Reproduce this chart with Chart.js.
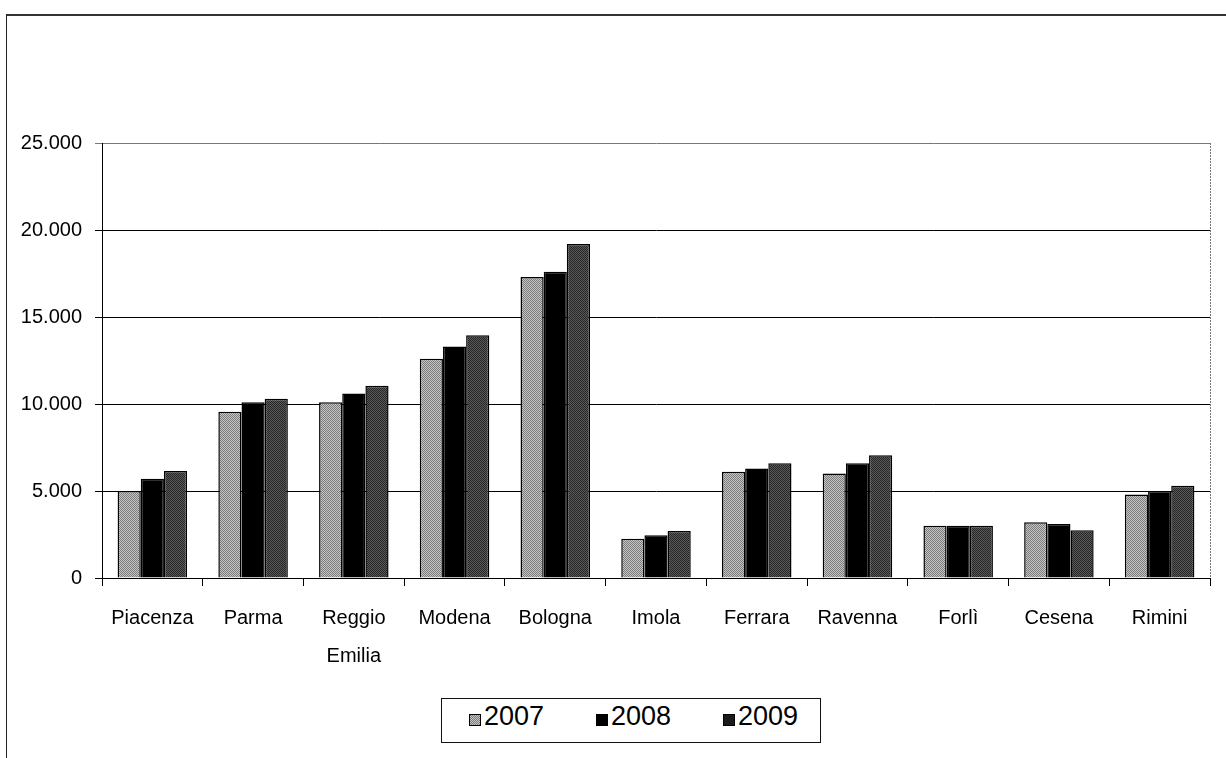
<!DOCTYPE html>
<html>
<head>
<meta charset="utf-8">
<script src="https://cdn.jsdelivr.net/npm/chart.js@4/dist/chart.umd.min.js"></script>
<style>
  body { margin: 0; background: #fff; }
  #wrap { position: relative; width: 1226px; height: 758px; overflow: hidden; }
  #frame { position: absolute; left: 6px; top: 14px; width: 1300px; height: 800px;
           border-left: 1px solid #222; border-top: 2px solid #333; }
  #chart-box { position: absolute; left: 0; top: 0; width: 1226px; height: 758px; }
  #legend { position: absolute; left: 441px; top: 698px; width: 378px; height: 43px;
            border: 1px solid #111; background: #fff; font-family: Arial, 'Liberation Sans', sans-serif; }
  .leg-item { position: absolute; top: 0; height: 43px; }
  .leg-box { position: absolute; top: 15px; width: 10px; height: 10px; border: 1px solid #000; }
  .leg-text { position: absolute; left: 15px; top: 2px; font-size: 27px; line-height: 30px; color: #000; }
</style>
</head>
<body>
<div id="wrap">
  <div id="frame"></div>
  <div id="chart-box"><canvas id="chart"></canvas></div>
  <div id="legend"></div>
</div>
<script>
// Data
const categories = ['Piacenza', 'Parma', ['Reggio', 'Emilia'], 'Modena', 'Bologna', 'Imola',
                    'Ferrara', 'Ravenna', 'Forlì', 'Cesena', 'Rimini'];
const seriesLabels = ['2007', '2008', '2009'];
const values2007 = [5000, 9550, 10100, 12600, 17300, 2250, 6100, 6000, 3000, 3200, 4800];
const values2008 = [5700, 10100, 10600, 13300, 17600, 2450, 6300, 6600, 3000, 3100, 5000];
const values2009 = [6150, 10300, 11050, 13950, 19200, 2700, 6600, 7050, 3000, 2750, 5300];
const yTicks = [0, 5000, 10000, 15000, 20000, 25000];

// Stippled fills like the scanned print
const makePattern = (light, dark) => {
    const c = document.createElement('canvas');
    c.width = 4; c.height = 4;
    const g = c.getContext('2d');
    g.fillStyle = light;
    g.fillRect(0, 0, 4, 4);
    g.fillStyle = dark;
    [[0, 0], [2, 0], [1, 1], [3, 1], [0, 2], [2, 2], [1, 3], [3, 3]].forEach(([x, y]) => g.fillRect(x, y, 1, 1));
    return c;
};
const pat2007 = makePattern('#c4c4c4', '#7c7c7c');
const pat2009 = makePattern('#5a5a5a', '#262626');
const ctx = document.getElementById('chart').getContext('2d');
const fills = [ctx.createPattern(pat2007, 'repeat'), '#000000', ctx.createPattern(pat2009, 'repeat')];
const legendFills = [`url(${pat2007.toDataURL()})`, '#000', '#1a1a1a'];

const formatIt = (v) => String(v).replace(/\B(?=(\d{3})+(?!\d))/g, '.');

// plot frame on the right side
const plotBorder = {
    id: 'plotBorder',
    afterDraw(chart) {
        const a = chart.chartArea;
        const g = chart.ctx;
        g.save();
        g.strokeStyle = '#777';
        g.lineWidth = 1;
        g.setLineDash([2, 1]);
        g.beginPath();
        g.moveTo(a.right + 0.5, a.top);
        g.lineTo(a.right + 0.5, a.bottom);
        g.stroke();
        g.restore();
    }
};

const allValues = [values2007, values2008, values2009];

new Chart(ctx, {
    type: 'bar',
    data: {
        labels: categories,
        datasets: seriesLabels.map((lab, i) => ({
            label: lab,
            data: allValues[i],
            backgroundColor: fills[i],
            borderColor: '#000',
            borderWidth: 1.5,
            borderSkipped: 'bottom'
        }))
    },
    options: {
        responsive: true,
        maintainAspectRatio: false,
        animation: false,
        layout: { padding: { top: 143, right: 16, left: 0, bottom: 0 } },
        plugins: {
            legend: { display: false },
            tooltip: { enabled: false }
        },
        datasets: { bar: { categoryPercentage: 0.69, barPercentage: 1.0 } },
        scales: {
            x: {
                grid: { offset: true, drawOnChartArea: false, color: '#000', tickLength: 8, lineWidth: 1 },
                border: { color: '#000', width: 1 },
                ticks: {
                    color: '#000',
                    padding: 13,
                    maxRotation: 0,
                    autoSkip: false,
                    font: { family: "Arial, 'Liberation Sans', sans-serif", size: 20, lineHeight: 1.9 }
                },
                afterFit: (scale) => { scale.height = 180; }
            },
            y: {
                min: 0,
                max: 25000,
                afterBuildTicks: (scale) => { scale.ticks = yTicks.map(v => ({ value: v })); },
                grid: {
                    color: (c) => c.tick && c.tick.value === 25000 ? '#777' : '#000',
                    lineWidth: 1,
                    tickLength: 7
                },
                border: { color: '#000', width: 1 },
                ticks: {
                    color: '#000',
                    padding: 13,
                    font: { family: "Arial, 'Liberation Sans', sans-serif", size: 20 },
                    callback: (v) => formatIt(v)
                },
                afterFit: (scale) => { scale.width = 102; }
            }
        }
    },
    plugins: [plotBorder]
});

// HTML legend with frame
const legend = document.getElementById('legend');
seriesLabels.forEach((lab, i) => {
    const item = document.createElement('div');
    item.className = 'leg-item';
    item.style.left = (27 + 127 * i) + 'px';
    item.innerHTML = `<div class="leg-box" style="background:${legendFills[i]}"></div><span class="leg-text">${lab}</span>`;
    legend.appendChild(item);
});
</script>
</body>
</html>
